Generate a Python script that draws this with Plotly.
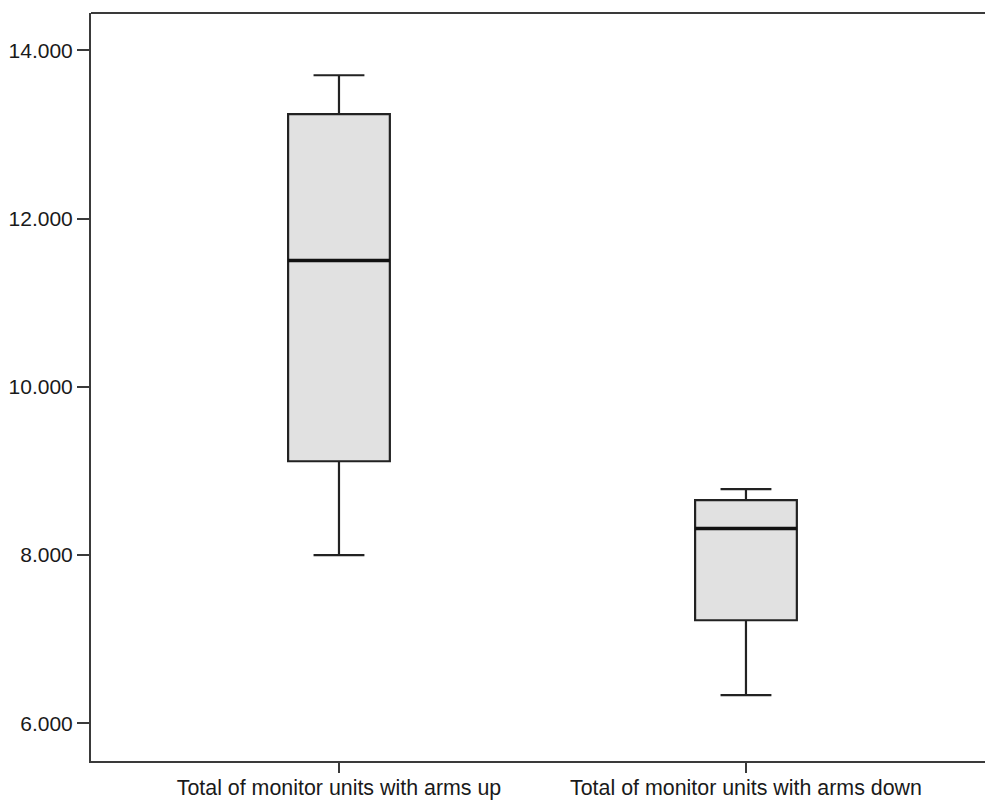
import plotly.graph_objects as go

# Summary statistics for the two monitor-unit groups
categories = ["Total of monitor units with arms up", "Total of monitor units with arms down"]
positions = [0, 1]
lower_whisker = [8000, 6335]
q1_values = [9115, 7225]
median_values = [11500, 8316]
q3_values = [13240, 8652]
upper_whisker = [13703, 8784]

y_tick_values = [6000, 8000, 10000, 12000, 14000]
y_tick_labels = ["6.000", "8.000", "10.000", "12.000", "14.000"]

BOX_WIDTH = 0.25
FONT = dict(family="Liberation Sans, Arial, sans-serif", size=21, color="#1a1a1a")
X_FONT = dict(FONT, size=21.4)
AXIS_COLOR = "#3a3a3a"

fig = go.Figure()
fig.add_trace(go.Box(
    x=positions,
    q1=q1_values,
    median=median_values,
    q3=q3_values,
    lowerfence=lower_whisker,
    upperfence=upper_whisker,
    width=BOX_WIDTH,
    whiskerwidth=0.5,
    fillcolor="#e1e1e1",
    line=dict(color="#222222", width=2.2),
    boxpoints=False,
    hoverinfo="skip",
    showlegend=False,
))

# Heavier median bars drawn over each box
for pos, med in zip(positions, median_values):
    fig.add_shape(type="line", xref="x", yref="y",
                  x0=pos - BOX_WIDTH / 2, x1=pos + BOX_WIDTH / 2, y0=med, y1=med,
                  line=dict(color="#111111", width=3.5))

# Top frame line
fig.add_shape(type="line", xref="paper", yref="paper", x0=0, x1=1, y0=1, y1=1,
              line=dict(color=AXIS_COLOR, width=2))

fig.update_layout(
    width=985, height=801,
    margin=dict(l=91, r=0, t=13, b=40),
    paper_bgcolor="white", plot_bgcolor="white",
    font=FONT,
    xaxis=dict(
        range=[-0.6093, 1.5873],
        tickvals=positions, ticktext=categories,
        showgrid=False, zeroline=False, automargin=False,
        showline=True, linecolor=AXIS_COLOR, linewidth=2,
        ticks="outside", ticklen=10, tickwidth=2, tickcolor=AXIS_COLOR,
        ticklabelstandoff=-4,
        tickfont=X_FONT,
    ),
    yaxis=dict(
        range=[5552, 14443],
        tickvals=y_tick_values, ticktext=y_tick_labels,
        showgrid=False, zeroline=False, automargin=False,
        showline=True, linecolor=AXIS_COLOR, linewidth=2,
        ticks="outside", ticklen=12, tickwidth=2, tickcolor=AXIS_COLOR,
        tickfont=FONT,
    ),
)

fig.write_html("out.html")
